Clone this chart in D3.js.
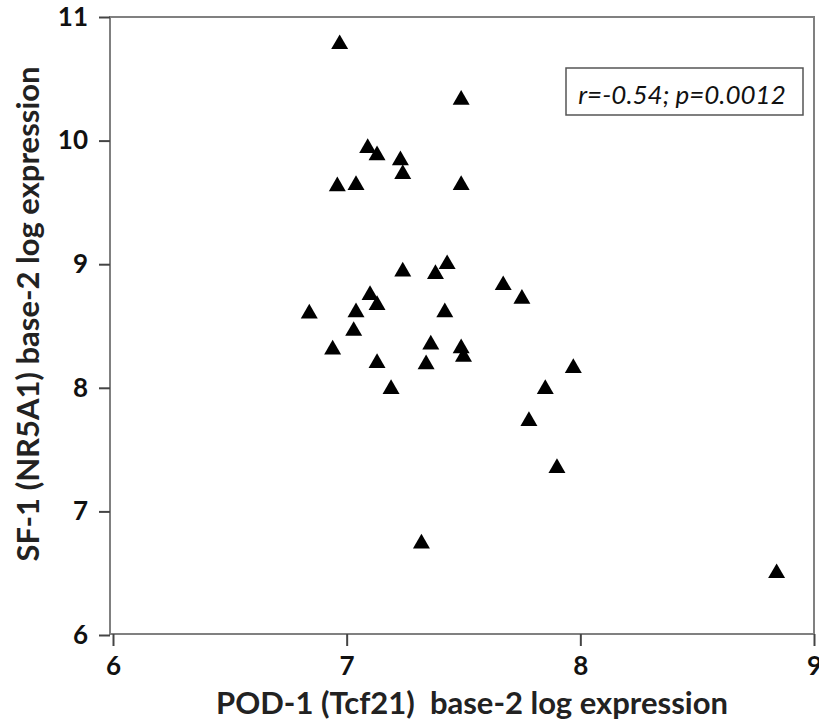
<!DOCTYPE html>
<html>
<head>
<meta charset="utf-8">
<script src="https://cdn.jsdelivr.net/npm/d3@7"></script>
<style>
  body { margin: 0; background: #fff; }
  svg { display: block; font-family: Lato, "Open Sans", sans-serif; }
</style>
</head>
<body>
<svg id="chart" width="819" height="728"></svg>
<script>
// POD-1 (Tcf21) values, one per sample
const pod1 = [6.97, 7.49, 7.09, 7.13, 7.23, 7.24, 6.96, 7.04, 7.49, 6.84, 7.04,
              7.10, 7.13, 7.03, 6.94, 7.13, 7.24, 7.38, 7.43, 7.67, 7.75, 7.42,
              7.36, 7.49, 7.50, 7.34, 7.19, 7.97, 7.85, 7.78, 7.90, 7.32, 8.84];
// SF-1 (NR5A1) values, same order
const sf1 = [10.78, 10.33, 9.94, 9.88, 9.84, 9.73, 9.63, 9.64, 9.64, 8.60, 8.61,
             8.75, 8.67, 8.46, 8.31, 8.20, 8.94, 8.92, 9.00, 8.83, 8.72, 8.61,
             8.35, 8.32, 8.25, 8.19, 7.99, 8.16, 7.99, 7.73, 7.35, 6.74, 6.50];
const xTicks = [6, 7, 8, 9];
const yTicks = [6, 7, 8, 9, 10, 11];
const statsLabel = "r=-0.54; p=0.0012";

const svg = d3.select("#chart");

const x = d3.scaleLinear().domain([6, 9]).range([113, 814]);
const y = d3.scaleLinear().domain([6, 11]).range([635, 17]);

// frame
svg.append("rect")
    .attr("x", 110).attr("y", 17)
    .attr("width", 704).attr("height", 617)
    .attr("fill", "none")
    .attr("stroke", "#808080")
    .attr("stroke-width", 2);

const yAxis = svg.append("g")
    .attr("transform", "translate(110,0)")
    .call(d3.axisLeft(y).tickValues(yTicks).tickFormat(d3.format("d")).tickSize(11).tickPadding(11));

const xAxis = svg.append("g")
    .attr("transform", "translate(0,634)")
    .call(d3.axisBottom(x).tickValues(xTicks).tickFormat(d3.format("d")).tickSize(12).tickPadding(11));

[xAxis, yAxis].forEach(g => {
    g.select(".domain").remove();
    g.selectAll(".tick line").attr("stroke", "#444").attr("stroke-width", 2);
    g.selectAll(".tick text")
        .attr("fill", "#111")
        .style("font-family", "Lato, 'Open Sans', sans-serif")
        .style("font-size", "26px")
        .style("font-weight", "bold");
});

// points
const pts = pod1.map((v, i) => ({ x: v, y: sf1[i] }));
svg.append("g")
    .selectAll("path")
    .data(pts)
    .enter().append("path")
    .attr("d", d3.symbol().type(d3.symbolTriangle).size(125))
    .attr("transform", d => "translate(" + x(d.x) + "," + y(d.y) + ")")
    .attr("fill", "#000");

// stats box
svg.append("rect")
    .attr("x", 566).attr("y", 68)
    .attr("width", 237).attr("height", 47)
    .attr("fill", "#fff")
    .attr("stroke", "#555")
    .attr("stroke-width", 1.5);
svg.append("text")
    .attr("x", 682).attr("y", 104)
    .attr("text-anchor", "middle")
    .style("font-size", "26px")
    .style("font-style", "italic")
    .attr("fill", "#111")
    .text(statsLabel);

// axis titles
svg.append("text")
    .attr("x", 472).attr("y", 714)
    .attr("text-anchor", "middle")
    .style("font-size", "31px")
    .style("font-weight", "bold")
    .style("white-space", "pre")
    .attr("fill", "#222")
    .text("POD-1 (Tcf21)  base-2 log expression");

svg.append("text")
    .attr("transform", "translate(39,314) rotate(-90)")
    .attr("text-anchor", "middle")
    .style("font-size", "31px")
    .style("font-weight", "bold")
    .attr("fill", "#222")
    .text("SF-1 (NR5A1) base-2 log expression");
</script>
</body>
</html>
